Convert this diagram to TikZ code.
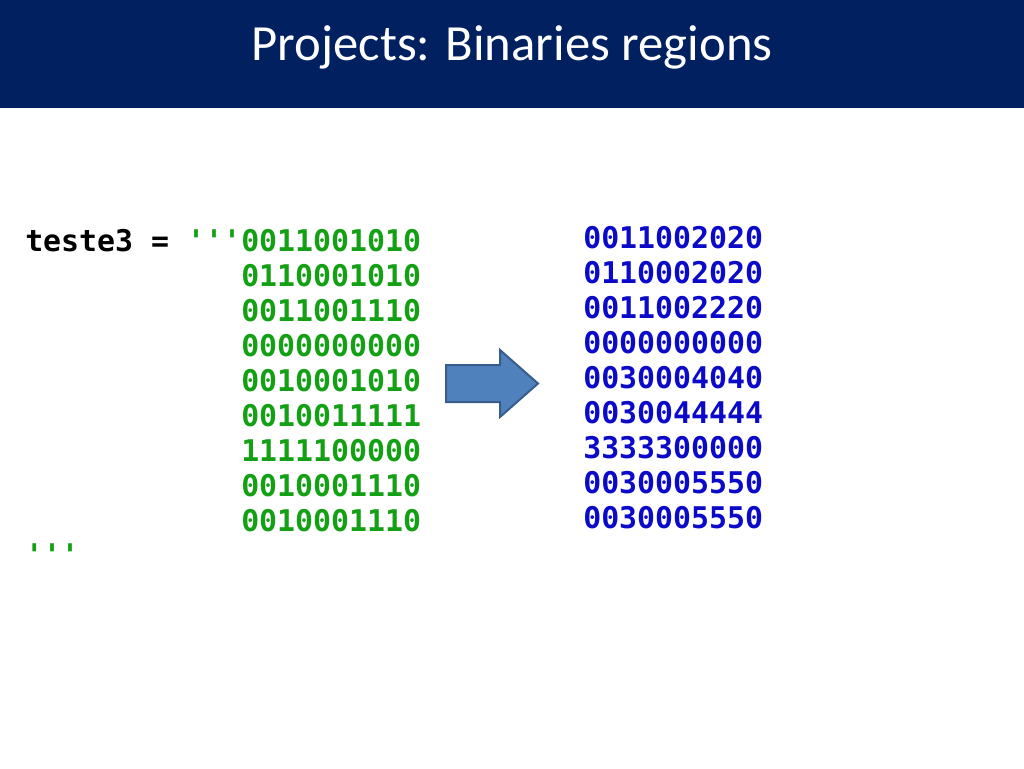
\documentclass[tikz,border=0pt]{standalone}
\usepackage{fontspec}
\setmainfont{Carlito}
\newfontfamily\codefont{DejaVu Sans Mono}
\usetikzlibrary{calc}
\definecolor{navy}{RGB}{0,32,96}
\definecolor{codegreen}{RGB}{20,160,20}
\definecolor{codeblue}{RGB}{10,10,200}
\definecolor{arrowfill}{RGB}{79,129,189}
\definecolor{arrowline}{RGB}{56,93,138}
\tikzset{
	code/.style={anchor=west, inner sep=0pt, font=\codefont\bfseries\fontsize{22.4}{22.4}\selectfont},
}
\begin{document}
\begin{tikzpicture}[x=0.75pt,y=-0.75pt]
		\useasboundingbox (0,0) rectangle (1024,768);
		\fill[white] (0,0) rectangle (1024,768);
		\fill[navy] (0,0) rectangle (1024,108);
		\node[text=white, font=\fontsize{38}{38}\selectfont] (title) at (512,47) {Projects: Binaries regions};
%
		\node[code] (head) at (25,241) {teste3 = \textcolor{codegreen}{'''}};
		\foreach \bits [count=\i] in {0011001010,0110001010,0011001110,0000000000,0010001010,0010011111,1111100000,0010001110,0010001110}
			\node[code, text=codegreen] (in\i) at (241,{241+35*(\i-1)}) {\bits};
		\node[code, text=codegreen] (close) at (25,555) {'''};
		\foreach \regs [count=\i] in {0011002020,0110002020,0011002220,0000000000,0030004040,0030044444,3333300000,0030005550,0030005550}
			\node[code, text=codeblue] (out\i) at (583,{238+35*(\i-1)}) {\regs};
%
		\draw[fill=arrowfill, draw=arrowline, line width=1.5pt]
			(446,365) -- (500,365) -- (500,350) -- (538,383.5) -- (500,417) -- (500,402) -- (446,402) -- cycle;
	\end{tikzpicture}
\end{document}
